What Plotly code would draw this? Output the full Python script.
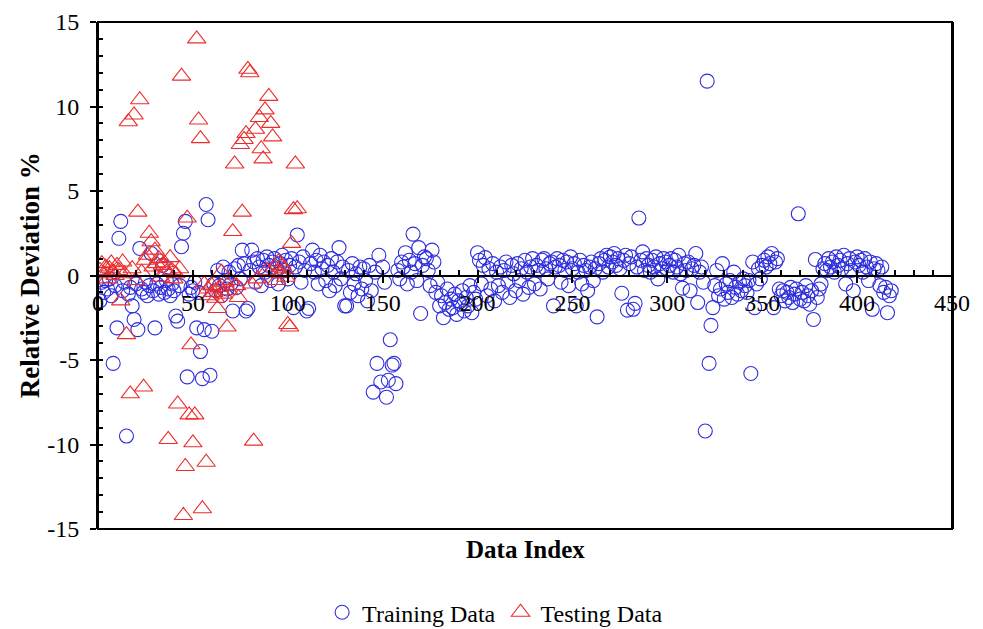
import plotly.graph_objects as go

# Training data: relative deviation (%) by data index 1..418
training_deviation = [
    -1.5, -0.4, -1.0, -0.3, -0.8, -0.2, -1.2, -5.2, -0.6, -3.1,
    2.2, 3.2, -0.9, -0.4, -9.5, -1.1, -0.7, -1.8, -2.6, -0.5,
    -3.2, 1.6, -0.8, -1.0, -0.4, -1.2, -0.6, 1.3, -0.9, -3.1,
    -0.5, -1.1, -0.7, 0.6, -1.0, -0.3, -0.8, -1.2, -0.5, -0.9,
    -2.4, -2.7, -0.6, 1.7, 2.5, 3.2, -6.0, -1.1, -0.7, -0.9,
    -0.4, -3.1, -1.0, -4.5, -6.1, -3.2, 4.2, 3.3, -5.9, -3.3,
    -0.5, -0.9, 0.3, -0.6, -1.2, 0.5, -0.3, -0.8, 0.2, -0.5,
    -2.1, 0.4, -0.7, 0.6, -0.2, 1.5, 0.7, -2.1, -1.95, 0.3,
    1.5, 0.8, -0.4, 1.0, 0.5, -0.6, 0.9, 0.2, 1.1, 0.6,
    -0.3, 0.8, 1.0, 0.4, -0.5, 0.7, 1.2, 0.3, 0.9, -0.2,
    0.6, 1.0, -1.9, 0.5, 2.4, 0.8, -0.4, 1.1, 0.3, -2.1,
    -1.95, 0.7, 1.5, 0.2, 0.9, -0.5, 1.2, 0.4, 0.8, -0.3,
    0.6, -0.9, 1.0, 0.2, -0.6, 0.8, 1.65, -0.2, 0.5, -1.8,
    -1.8, 0.3, -1.0, 0.7, -0.5, 0.1, -1.2, 0.5, -0.8, 0.4,
    -0.3, -1.5, 0.6, -0.9, -6.9, 0.2, -5.2, 1.2, -6.3, 0.5,
    -0.4, -7.2, -6.2, -3.8, -5.3, -5.2, -6.4, 0.3, -0.2, 0.8,
    0.5, 1.35, -0.5, 0.9, 0.2, 2.45, 0.7, -0.3, 1.65, -2.25,
    0.6, 1.1, 1.0, 0.3, -0.6, 1.5, 0.8, -1.0, -0.4, -1.8,
    -1.2, -2.5, -1.6, -0.8, -2.0, -1.4, -1.9, -1.1, -2.3, -1.5,
    -1.7, -0.9, -2.1, -1.3, -1.8, -0.6, -2.2, -1.0, -1.4, 1.35,
    0.9, -0.5, 0.6, 1.06, -1.2, 0.4, -0.8, 0.7, -1.5, 0.2,
    -0.6, 0.5, -1.0, 0.3, 0.8, -0.4, -1.3, 0.6, 0.1, -0.9,
    0.7, -0.3, 0.4, -1.1, 0.9, 0.2, -0.7, 0.5, 1.0, -0.5,
    0.6, 0.3, -0.8, 0.9, 1.0, 0.4, -0.2, 0.7, 0.8, -1.8,
    0.5, 1.0, 0.6, -0.4, 0.9, 0.3, 0.8, -0.6, 1.1, 0.4,
    0.7, -1.8, 0.2, 0.9, -0.5, 0.6, 0.3, -0.9, 0.5, 0.8,
    -0.3, 0.4, -2.45, 0.7, 1.0, 0.2, 0.9, 1.2, 0.5, 1.1,
    0.8, 1.3, 0.6, 1.0, 0.4, -1.05, 0.9, 1.2, -2.05, 0.7,
    1.1, -2.0, -1.65, 0.5, 3.4, 0.9, 1.4, 0.3, 1.0, 0.6,
    0.2, 0.9, 0.5, 1.1, -0.2, 0.7, 0.4, 1.0, 0.8, 0.3,
    0.6, 1.0, 0.2, 0.9, 0.5, 1.2, 0.1, -0.75, 0.7, 0.3,
    0.8, -0.9, 0.4, 0.6, 1.3, -1.6, 0.2, 0.5, -0.4, -9.2,
    11.5, -5.2, -2.95, -1.9, -0.6, 0.3, -1.2, -0.8, 0.7, -1.4,
    -0.5, -1.0, -0.3, -1.3, 0.2, -0.7, -1.1, -0.4, -0.9, -0.2,
    -0.6, -1.0, -0.3, -5.8, 0.8, -1.9, -0.5, 0.4, -0.2, 0.6,
    0.9, 0.5, 1.1, 0.7, 1.3, -1.9, 0.8, 1.0, -0.8, -1.2,
    -0.9, -1.5, -1.0, -1.3, -0.7, -1.6, -1.1, -0.8, 3.65, -1.4,
    -1.0, -1.5, -0.6, -1.2, -1.7, -0.9, -2.6, 0.95, -1.3, -0.8,
    -0.5, 0.4, 0.7, 0.3, 1.0, 0.5, 0.8, 0.2, 1.1, 0.6,
    0.9, 0.4, 1.2, -0.5, 0.7, 1.0, 0.3, -0.9, 0.8, 1.1,
    0.6, 0.9, 0.2, 1.0, 0.5, -0.3, 0.8, -2.0, 0.4, 0.7,
    0.3, -0.6, 0.5, -1.0, -0.7, -2.2, -1.2, -0.9,
]
training_index = list(range(1, len(training_deviation) + 1))

# Testing data: relative deviation (%) by data index 1..105
testing_deviation = [
    0.3, 0.7, 0.1, 0.5, -0.2, 0.4, 0.75, 0.2, 0.0, 0.6,
    0.3, -1.5, 0.8, 0.1, -3.5, 9.1, -7.0, 0.4, 9.5, -0.3,
    3.75, 10.4, 0.2, -6.6, 0.9, 1.2, 2.5, 2.0, 0.5, 1.5,
    0.7, 1.0, -0.1, 0.6, 0.75, 0.2, -9.7, 1.06, 0.3, -0.2,
    0.1, -7.6, 0.4, 11.8, -14.2, -11.3, 3.4, -8.25, -4.1, -9.9,
    -8.25, 14.0, 9.2, 8.1, -13.8, -0.5, -11.05, -0.8, -1.2, -0.6,
    -1.0, -1.35, -1.95, -0.7, 0.2, -1.1, -0.4, -3.05, -0.9, -0.3,
    2.6, 6.6, -0.6, -1.3, 7.75, 3.75, 8.05, 8.4, 12.2, 12.0,
    -0.5, -9.8, 8.65, -0.2, 9.35, 7.5, 6.9, 9.8, 0.3, 10.6,
    9.0, 8.2, 0.5, -0.3, 0.8, 0.1, 0.6, 0.4, -0.1, -2.9,
    -3.05, 1.9, 3.9, 6.6, 3.95,
]
testing_index = list(range(1, len(testing_deviation) + 1))

x_ticks = [0, 50, 100, 150, 200, 250, 300, 350, 400, 450]
y_ticks = [-15, -10, -5, 0, 5, 10, 15]

FONT = "Liberation Serif"
BLUE = "rgb(45,45,220)"
RED = "rgb(235,45,45)"

fig = go.Figure()
fig.add_trace(go.Scatter(
    x=training_index, y=training_deviation, mode="markers", name="Training Data",
    marker=dict(symbol="circle-open", size=14, color=BLUE,
                line=dict(width=1.1, color=BLUE)),
))
fig.add_trace(go.Scatter(
    x=testing_index, y=testing_deviation, mode="markers", name="Testing Data",
    marker=dict(symbol="triangle-up-open", size=16, color=RED,
                line=dict(width=1.1, color=RED)),
))

fig.update_layout(
    width=983, height=629,
    margin=dict(l=90, r=39, t=14, b=108, autoexpand=False),
    plot_bgcolor="white", paper_bgcolor="white",
    font=dict(family=FONT, size=24, color="black"),
    showlegend=True,
    legend=dict(orientation="h", x=0.465, xanchor="center", y=-0.165, yanchor="middle",
                font=dict(family=FONT, size=24), itemwidth=30, tracegroupgap=0),
    xaxis=dict(
        range=[0, 450], tickvals=x_ticks, ticktext=[str(v) for v in x_ticks],
        anchor="free", position=0.5, automargin=False,
        showline=True, linecolor="black", linewidth=2,
        ticks="outside", ticklen=6, tickwidth=2, tickcolor="black",
        minor=dict(dtick=10, ticks="inside", ticklen=5, tickwidth=1.5, tickcolor="black"),
        showgrid=False, zeroline=False,
        tickfont=dict(family=FONT, size=24),
        ticklabelstandoff=0, ticklabeloverflow="allow",
    ),
    yaxis=dict(
        range=[-15, 15], tickvals=y_ticks, ticktext=[str(v) for v in y_ticks],
        automargin=False,
        showline=True, linecolor="black", linewidth=2, mirror=True,
        ticks="outside", ticklen=6, tickwidth=2, tickcolor="black",
        minor=dict(dtick=1, ticks="inside", ticklen=5, tickwidth=1.5, tickcolor="black"),
        showgrid=False, zeroline=False,
        tickfont=dict(family=FONT, size=24),
        ticklabelstandoff=6, ticklabeloverflow="allow",
    ),
    shapes=[
        dict(type="rect", xref="paper", yref="paper", x0=0, x1=1, y0=0, y1=1,
             line=dict(color="black", width=2), layer="above"),
    ],
    annotations=[
        dict(text="<b>Data Index</b>", xref="paper", yref="paper", x=0.5, y=-0.04,
             xanchor="center", yanchor="middle", showarrow=False,
             font=dict(family=FONT, size=25)),
        dict(text="<b>Relative Deviation %</b>", xref="paper", yref="paper", x=-0.08, y=0.5,
             xanchor="center", yanchor="middle", textangle=-90, showarrow=False,
             font=dict(family=FONT, size=27)),
    ],
)

fig.write_html("out.html")
